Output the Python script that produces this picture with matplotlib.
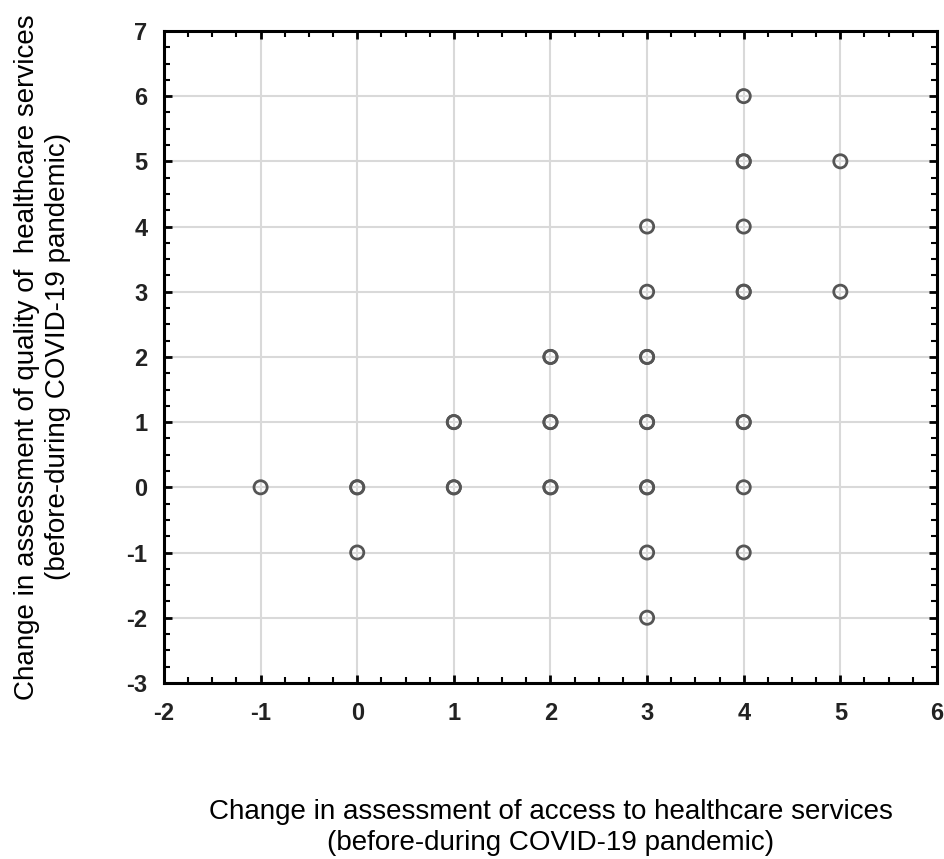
import numpy as np
import matplotlib.pyplot as plt
from matplotlib.ticker import MultipleLocator

plt.rcParams['font.family'] = ['Liberation Sans', 'DejaVu Sans']
plt.rcParams['axes.unicode_minus'] = False

# data points (repeated entries = overlapping observations)
access_change = [-1, 0, 0, 0, 1, 1, 1, 1, 2, 2, 2, 2, 2, 2,
                 3, 3, 3, 3, 3, 3, 3, 3, 3, 3,
                 4, 4, 4, 4, 4, 4, 4, 4, 4, 4, 5, 5]
quality_change = [0, 0, 0, -1, 1, 1, 0, 0, 2, 2, 1, 1, 0, 0,
                  4, 3, 2, 2, 1, 1, 0, 0, -1, -2,
                  6, 5, 5, 4, 3, 3, 1, 1, 0, -1, 5, 3]

xticks = [-2, -1, 0, 1, 2, 3, 4, 5, 6]
yticks = [-3, -2, -1, 0, 1, 2, 3, 4, 5, 6, 7]

fig = plt.figure(figsize=(9.45, 8.59), dpi=100)
ax = fig.add_axes([0.1735, 0.205, 0.818, 0.759])

ax.scatter(access_change, quality_change, s=90, facecolors='none',
           edgecolors='#555555', linewidths=2.0, zorder=3)

ax.set_xlim(-2, 6)
ax.set_ylim(-3, 7)
ax.set_xticks(xticks)
ax.set_yticks(yticks)
ax.xaxis.set_minor_locator(MultipleLocator(0.25))
ax.yaxis.set_minor_locator(MultipleLocator(0.25))
ax.grid(True, which='major', color='#d9d9d9', linewidth=1.5)
ax.set_axisbelow(True)

ax.tick_params(which='both', direction='in', top=True, right=True, labelsize=17)
ax.tick_params(which='major', length=6, width=2)
ax.tick_params(which='minor', length=4, width=1.5)
for lab in ax.get_xticklabels() + ax.get_yticklabels():
    lab.set_fontweight('bold')
    lab.set_color('#222222')
ax.tick_params(axis='x', pad=14)
ax.tick_params(axis='y', pad=12)
for sp in ax.spines.values():
    sp.set_linewidth(2.2)

ax.set_xlabel('Change in assessment of access to healthcare services\n(before-during COVID-19 pandemic)',
              fontsize=20, labelpad=53, linespacing=1.25)
ax.set_ylabel('Change in assessment of quality of  healthcare services\n(before-during COVID-19 pandemic)',
              fontsize=20, labelpad=40, linespacing=1.25)

fig.savefig('out.png', dpi=100)
